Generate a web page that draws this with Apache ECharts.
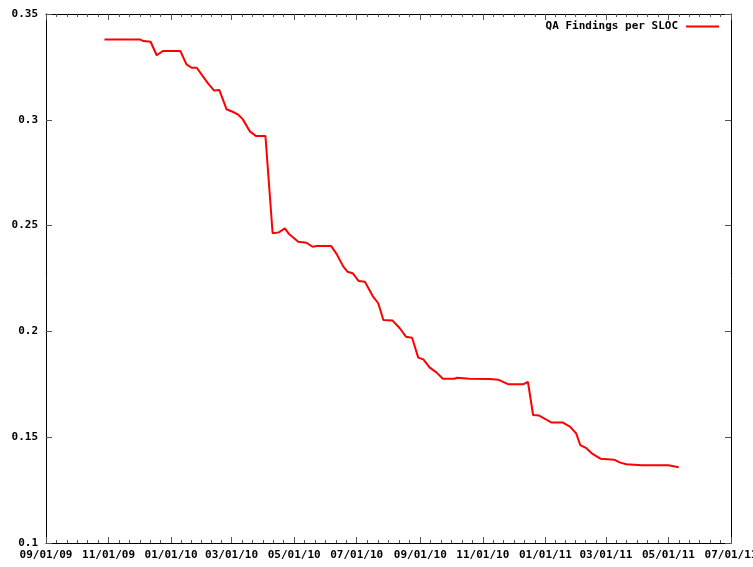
<!DOCTYPE html>
<html>
<head>
<meta charset="utf-8">
<script src="https://cdn.jsdelivr.net/npm/echarts@6/dist/echarts.min.js"></script>
<style>
html,body{margin:0;padding:0;background:#fff;}
#chart{width:753px;height:567px;}
</style>
</head>
<body>
<div id="chart"></div>
<script>
// ---- data ----
const seriesName = 'QA Findings per SLOC';
const dates = [
  '2009-10-28','2009-12-02','2009-12-05','2009-12-12','2009-12-18','2009-12-24',
  '2010-01-10','2010-01-16','2010-01-21','2010-01-26','2010-01-31','2010-02-06',
  '2010-02-12','2010-02-13','2010-02-17','2010-02-24','2010-03-02','2010-03-07',
  '2010-03-12','2010-03-19','2010-03-25','2010-04-03','2010-04-04','2010-04-10',
  '2010-04-16','2010-04-22','2010-04-26','2010-05-05','2010-05-13','2010-05-19',
  '2010-05-23','2010-06-06','2010-06-11','2010-06-18','2010-06-22','2010-06-27',
  '2010-07-03','2010-07-09','2010-07-17','2010-07-22','2010-07-27','2010-08-05',
  '2010-08-12','2010-08-18','2010-08-24','2010-08-30','2010-09-04','2010-09-10',
  '2010-09-17','2010-09-23','2010-10-04','2010-10-07','2010-10-19','2010-11-08',
  '2010-11-16','2010-11-26','2010-12-10','2010-12-15','2010-12-20','2010-12-26',
  '2011-01-01','2011-01-07','2011-01-18','2011-01-25','2011-01-31','2011-02-04',
  '2011-02-10','2011-02-16','2011-02-24','2011-03-09','2011-03-15','2011-03-21',
  '2011-04-05','2011-05-01','2011-05-11'
];
const values = [
  0.3379,0.3379,0.3372,0.3369,0.3305,0.3325,
  0.3325,0.3262,0.3246,0.3246,0.3212,0.3172,
  0.3138,0.3141,0.3141,0.3050,0.3038,0.3026,
  0.3002,0.2944,0.2923,0.2923,0.2923,0.2464,
  0.2468,0.2487,0.2460,0.2424,0.2419,0.2400,
  0.2404,0.2404,0.2369,0.2306,0.2282,0.2275,
  0.2238,0.2235,0.2164,0.2133,0.2054,0.2051,
  0.2015,0.1975,0.1970,0.1876,0.1868,0.1830,
  0.1805,0.1776,0.1776,0.1781,0.1776,0.1775,
  0.1772,0.1750,0.1750,0.1761,0.1605,0.1602,
  0.1586,0.1569,0.1569,0.1550,0.1518,0.1463,
  0.1448,0.1421,0.1398,0.1394,0.1380,0.1372,
  0.1367,0.1367,0.1358
];
const xTickLabels = ['09/01/09','11/01/09','01/01/10','03/01/10','05/01/10','07/01/10',
                     '09/01/10','11/01/10','01/01/11','03/01/11','05/01/11','07/01/11'];
const yMin = 0.1, yMax = 0.35, yStep = 0.05;

// ---- helpers ----
function parseLabel(s){
  const p = s.split('/');
  return Date.UTC(2000 + (+p[2]), (+p[0]) - 1, +p[1]);
}
function pad(n){ return (n < 10 ? '0' : '') + n; }
function fmt(v){
  const d = new Date(Math.round(v));
  return pad(d.getUTCMonth()+1) + '/' + pad(d.getUTCDate()) + '/' + pad(d.getUTCFullYear() % 100);
}
const majorTicks = xTickLabels.map(parseLabel);
const minorTicks = [];
for (let i = 0; i < majorTicks.length - 1; i++) {
  for (let k = 1; k < 6; k++) {
    minorTicks.push(majorTicks[i] + (majorTicks[i+1] - majorTicks[i]) * k / 6);
  }
}
const xMin = majorTicks[0], xMax = majorTicks[majorTicks.length - 1];
const data = dates.map((d, i) => {
  const p = d.split('-');
  return [Date.UTC(+p[0], +p[1]-1, +p[2]), values[i]];
});

const font = 'DejaVu Sans Mono';
const tickGray = '#555';
function xAx(pos, ticks, len, showLabel, showLine) {
  return {
    type: 'value', position: pos, min: xMin, max: xMax, scale: true,
    axisLine: { show: showLine, onZero: false, lineStyle: { color: '#000', width: 1 } },
    axisTick: { show: true, inside: true, length: len, customValues: ticks,
                lineStyle: { color: tickGray, width: 1 } },
    axisLabel: showLabel ? { show: true, customValues: majorTicks, formatter: fmt,
                 fontFamily: font, fontWeight: 'bold', fontSize: 11, color: '#000', margin: 7,
                 showMinLabel: true, showMaxLabel: true } : { show: false },
    splitLine: { show: false }
  };
}
function yAx(pos, showLabel) {
  return {
    type: 'value', position: pos, min: yMin, max: yMax, interval: yStep,
    axisLine: { show: true, onZero: false, lineStyle: { color: '#000', width: 1 } },
    axisTick: { show: true, inside: true, length: 6, lineStyle: { color: tickGray, width: 1 } },
    axisLabel: showLabel ? { show: true, fontFamily: font, fontWeight: 'bold', fontSize: 11,
                 color: '#000', margin: 8, showMinLabel: true, showMaxLabel: true } : { show: false },
    splitLine: { show: false }
  };
}

const chart = echarts.init(document.getElementById('chart'), null, { renderer: 'canvas' });
chart.setOption({
  animation: false,
  backgroundColor: '#fff',
  grid: { left: 46, right: 22, top: 14, bottom: 24, containLabel: false, outerBoundsMode: 'none' },
  legend: {
    show: true, right: 34, top: 21, padding: 0, align: 'right', icon: 'rect',
    itemWidth: 33, itemHeight: 2, itemGap: 0,
    textStyle: { fontFamily: font, fontWeight: 'bold', fontSize: 11, color: '#000', padding: [0, 3, 0, 0] },
    data: [seriesName]
  },
  xAxis: [
    xAx('bottom', majorTicks, 6, true, true),
    xAx('bottom', minorTicks, 3, false, false),
    xAx('top', majorTicks, 6, false, true),
    xAx('top', minorTicks, 3, false, false)
  ],
  yAxis: [ yAx('left', true), yAx('right', false) ],
  series: [{
    name: seriesName, type: 'line', xAxisIndex: 0, yAxisIndex: 0,
    data: data, showSymbol: false, symbol: 'none',
    lineStyle: { color: '#ff0000', width: 2 }, itemStyle: { color: '#ff0000' },
    z: 5
  }]
});
</script>
</body>
</html>
